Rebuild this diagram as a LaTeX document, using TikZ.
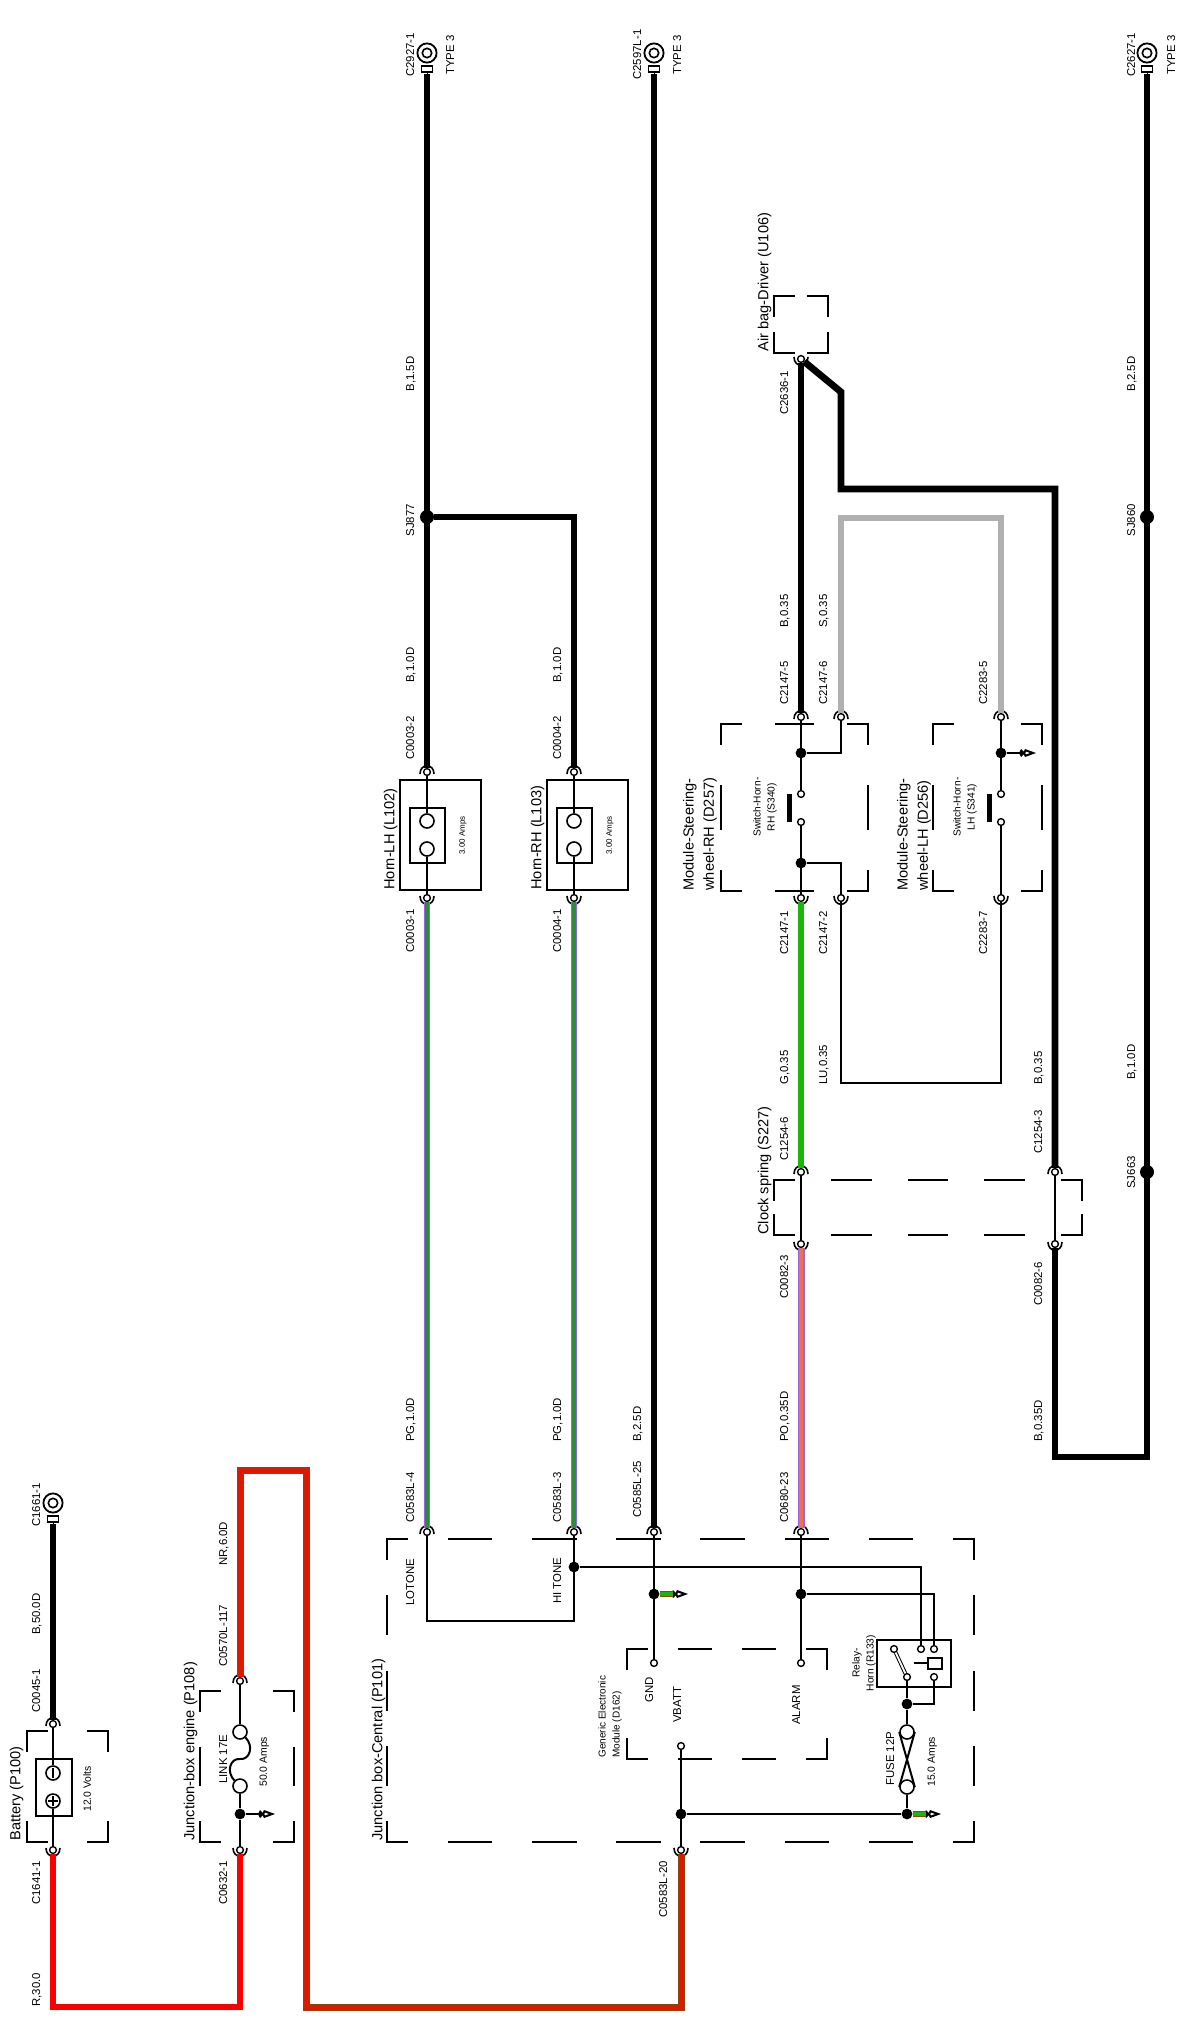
\documentclass[tikz,border=0pt]{standalone}
\usepackage{fontspec}
\setmainfont{Liberation Sans}
\usetikzlibrary{arrows.meta}
\definecolor{wgreen}{HTML}{1EB40E}
\definecolor{wgrey}{HTML}{B0B0B0}
\definecolor{wred}{HTML}{FA0000}
\definecolor{wbrown}{HTML}{8A4510}
\definecolor{wnr}{HTML}{DC1A00}
\definecolor{wpurple}{HTML}{9966DD}
\definecolor{wpg}{HTML}{2E8B3E}
\definecolor{wpo}{HTML}{F07050}
\newcommand{\cornerbox}[6]{%
\pgfmathsetmacro\dw{(#3-#1-40)/(2*#5+1)/2}\pgfmathsetmacro\dh{(#4-#2-40)/(2*#6+1)/2}%
\ifnum#5=0 \tikzset{wside/.style={dash pattern=on 10pt off \dw pt}}\else\tikzset{wside/.style={dash pattern=on \dw pt off \dw pt,dash phase=\dw pt-10pt}}\fi
\ifnum#6=0 \tikzset{hside/.style={dash pattern=on 10pt off \dh pt}}\else\tikzset{hside/.style={dash pattern=on \dh pt off \dh pt,dash phase=\dh pt-10pt}}\fi
\draw[boxdash,wside] (#1,#2)--(#3,#2) (#1,#4)--(#3,#4);
\draw[boxdash,hside] (#1,#2)--(#1,#4) (#3,#2)--(#3,#4);}
\begin{document}
\begin{tikzpicture}[x=.5pt,y=-.5pt,
conn/.style={circle,draw,fill=white,inner sep=0,minimum size=3.4pt,line width=.7pt},
pinc/.style={circle,draw,fill=white,inner sep=0,minimum size=3.4pt,line width=.7pt},
coilc/.style={circle,draw,fill=white,inner sep=0,minimum size=7pt,line width=.8pt},
splice/.style={circle,fill=black,inner sep=0,minimum size=5.4pt},
bigsplice/.style={circle,fill=black,inner sep=0,minimum size=7pt},
ring/.style={circle,draw,fill=white,inner sep=0,minimum size=9.6pt,line width=.9pt},
lug/.style={rectangle,draw,fill=white,inner sep=0,minimum width=5.4pt,minimum height=3pt,outer sep=1.2pt,line width=.7pt},
thinw/.style={line width=1pt},
boxdash/.style={line width=1.2pt,line cap=rect},
boxl/.style={line width=1.1pt},
wblack/.style={line width=3.4pt,black},
wR/.style={line width=3.4pt,wred},
wNR/.style={draw=wbrown,double=wnr,line width=.5pt,double distance=2.5pt},
wPG/.style={draw=wpurple,double=wpg,line width=.9pt,double distance=1.6pt},
wPO/.style={draw=wpurple,double=wpo,line width=.6pt,double distance=2.3pt},
wG/.style={line width=3.4pt,wgreen},
wS/.style={line width=3.4pt,wgrey},
stub/.style={draw=wbrown,double=wgreen,line width=.5pt,double distance=2.4pt},
tipw/.style={line width=1pt,-{Kite[length=3pt,width=4pt,inset=1pt,sep=-1pt]Kite[open,fill=white,length=6.5pt,width=4pt,inset=1pt]}},
rotlab/.style={rotate=90,anchor=west,inner sep=0},
lab/.style={rotlab,font=\fontsize{5.7}{7}\selectfont,text height=4.1pt,text depth=0pt},
midlab/.style={rotlab,font=\fontsize{5.2}{7}\selectfont,text height=3.8pt,text depth=0pt},
tinylab/.style={rotlab,font=\fontsize{4}{5}\selectfont,text height=2.9pt,text depth=0pt},
ttl/.style={rotlab,font=\fontsize{7.3}{10}\selectfont,text height=5.3pt,text depth=0pt},
twoline/.style={rotlab,align=left,font=\fontsize{7.3}{10.2}\selectfont},
smalltwo/.style={rotlab,anchor=center,align=center,font=\fontsize{5.1}{7}\selectfont},
capup/.pic={\draw[line width=.8pt] (-7,2) .. controls (-7,-9) and (7,-9) .. (7,2);},
capdn/.pic={\draw[line width=.8pt] (-7,-2) .. controls (-7,9) and (7,9) .. (7,-2);},
eyelet/.pic={\draw[line width=.8pt] (0,0) circle[radius=4.7]; \draw[line width=.5pt] (0,19)--(0,24);}]
\useasboundingbox (0,0) rectangle (1185,2028);
% connectors and terminals
\foreach \n/\x/\y in {c0045-1/53/1724,c0570l-117/240/1681,c0003-2/427/772,c0004-2/574/772,c0583l-4/427/1532,c0583l-3/574/1532,c0585l-25/654/1532,c0680-23/801/1532,c2147-5/801/717,c2147-6/841/717,c2283-5/1001/717,c1254-6/801/1172,c1254-3/1055/1172}
\path (\x,\y) node[conn] (\n) {} pic{capup};
\foreach \n/\x/\y in {c1641-1/53/1850,c0632-1/240/1850,c0583l-20/681/1850,c0003-1/427/898,c0004-1/574/898,c2147-1/801/898,c2147-2/841/898,c2283-7/1001/898,c0082-3/801/1244,c0082-6/1055/1244,c2636-1/801/359}
\path (\x,\y) node[conn] (\n) {} pic{capdn};
\foreach \n/\x/\y in {c2927-1/427/53,c2597l-1/654/53,c2627-1/1147/53,c1661-1/53/1503}{
\node[lug] (\n) at (\x,\y+16) {};
\node[ring] (r\n) at (\x,\y) {};
\path (\x,\y) pic{eyelet};
}
% splices
\foreach \n/\x/\y in {jengine/240/1814,jhi/574/1567,jgnd/654/1594,jalarm/801/1594,jvbatt/681/1814,jfuse/907/1814,jrelay/907/1704,jsw1/801/753,jsw2/801/863,jsw3/1001/753}
\node[splice] (\n) at (\x,\y) {};
\foreach \n/\x/\y in {sj877/427/517,sj860/1147/517,sj663/1147/1172}
\node[bigsplice] (\n) at (\x,\y) {};
% pins
\foreach \n/\x/\y in {pgnd/654/1663,palarm/801/1663,pvbatt/681/1746,ra/894/1649,rb/907/1677,rc/921/1649,rd/934/1649,re/934/1677,s1a/801/794,s1b/801/822,s2a/1001/794,s2b/1001/822}
\node[pinc] (\n) at (\x,\y) {};
\foreach \n/\x/\y in {bneg/53/1773,bpos/53/1801,link1/240/1786,link2/240/1732,h1a/427/821,h1b/427/849,h2a/574/821,h2b/574/849,f1/907/1732,f2/907/1787}
\node[coilc] (\n) at (\x,\y) {};
\foreach \n/\x/\y in {tipa/275/1814,tipb/688/1594,tipc/941/1814,tipd/1036/753}
\coordinate (\n) at (\x,\y);
% boxes
\cornerbox{27}{1731}{108}{1842}{0}{0}
\cornerbox{200}{1691}{294}{1842}{0}{1}
\cornerbox{387}{1539}{974}{1842}{6}{3}
\cornerbox{627}{1649}{827}{1759}{2}{0}
\cornerbox{721}{724}{868}{891}{1}{1}
\cornerbox{933}{724}{1042}{891}{0}{1}
\cornerbox{774}{1180}{1082}{1235}{3}{0}
\cornerbox{774}{296}{828}{353}{0}{0}
\draw[boxl] (36,1759) rectangle (72,1816) (400,780) rectangle (481,890) (547,780) rectangle (628,890);
\draw[line width=.9pt] (410,808) rectangle (445,863) (557,808) rectangle (592,863) (877,1640) rectangle (951,1687);
\draw[line width=.9pt,fill=white] (928,1658) rectangle (942,1669);
% power feed
\draw[wblack] (c1661-1)--(c0045-1);
\draw[wR] (c1641-1)--(53,2007)-|(c0632-1);
\draw[wNR] (c0570l-117)--(240,1470)-|(306,2007)-|(c0583l-20);
\draw[thinw] (c0045-1)--(bneg) (bpos)--(c1641-1) (c0570l-117)--(link2) (link1)--(jengine)--(c0632-1);
\draw[thinw] (link1) .. controls (226,1772) and (230,1758) .. (240,1759) .. controls (250,1760) and (254,1746) .. (link2);
\draw[line width=1.1pt] (53,1768)--(53,1778) (53,1796)--(53,1806) (48,1801)--(58,1801);
% horns
\draw[wblack] (c2927-1)--(c0003-2);
\draw[wblack] (sj877)-|(c0004-2);
\draw[wblack] (c2597l-1)--(c0585l-25);
\draw[wblack] (c2627-1)--(1147,1457)-|(c0082-6);
\draw[wPG] (c0003-1)--(c0583l-4);
\draw[wPG] (c0004-1)--(c0583l-3);
\draw[thinw] (c0003-2)--(h1a) (h1b)--(c0003-1) (c0004-2)--(h2a) (h2b)--(c0004-1);
% steering wheel
\draw[wblack] (c2636-1)--(c2147-5);
\draw[wblack] (c2636-1)--(841,392)--(841,489)-|(c1254-3);
\draw[wS] (c2147-6)--(841,518)-|(c2283-5);
\draw[wG] (c2147-1)--(c1254-6);
\draw[wPO] (c0082-3)--(c0680-23);
\draw[thinw] (c2147-5)--(s1a) (s1b)--(c2147-1) (jsw1)-|(c2147-6) (jsw2)-|(c2147-2);
\draw[thinw] (c2283-5)--(s2a) (s2b)--(c2283-7);
\draw[thinw] (c2147-2)--(841,1083)-|(c2283-7);
\draw[thinw] (c1254-6)--(c0082-3) (c1254-3)--(c0082-6);
\draw[line width=2.5pt] (789,794)--(789,822) (989,794)--(989,822);
% central box
\draw[thinw] (c0583l-4)--(427,1621)-|(c0583l-3);
\draw[thinw] (jhi)-|(rc);
\draw[thinw] (jalarm)-|(rd);
\draw[thinw] (c0585l-25)--(pgnd) (c0680-23)--(palarm) (c0583l-20)--(pvbatt);
\draw[thinw] (jvbatt)--(jfuse);
\draw[thinw] (rb)--(jrelay) (jrelay)-|(re) (jrelay)--(f1) (f2)--(jfuse);
\draw[thinw] (f1.west)--(f2.east) (f1.east)--(f2.west);
\draw[line width=.5pt,double,double distance=.9pt] (ra)--(rb);
\draw[thinw] (914,1663)--(928,1663);
\draw[tipw] (jengine)--(tipa);
\draw[tipw] (jgnd)--(tipb);
\draw[tipw] (jfuse)--(tipc);
\draw[tipw] (jsw3)--(tipd);
\draw[stub] (660,1594)--(673,1594);
\draw[stub] (913,1814)--(926,1814);
% labels
\foreach \t/\x/\y [count=\i] in {C1661-1/36/1527,{B,50.0D}/36/1635,C0045-1/36/1713,C1641-1/36/1905,{R,30.0}/36/2007,{NR,6.0D}/223/1566,C0570L-117/223/1667,C0632-1/223/1905,LINK 17E/223/1784,C2927-1/410/77,TYPE 3/450/75,{B,1.5D}/410/392,SJ877/410/537,{B,1.0D}/410/683,C0003-2/410/760,C0003-1/410/953,{PG,1.0D}/410/1442,C0583L-4/410/1523,LOTONE/410/1606,C2597L-1/637/80,TYPE 3/677/75,C2627-1/1131/77,TYPE 3/1171/75,{B,2.5D}/1131/392,SJ860/1131/537,{B,1.0D}/1131/1080,SJ663/1131/1189,{B,1.0D}/557/683,C0004-2/557/760,C0004-1/557/953,{PG,1.0D}/557/1442,C0583L-3/557/1523,HI TONE/557/1604,{B,2.5D}/637/1442,C0585L-25/637/1518,C2636-1/784/415,{B,0.35}/784/628,C2147-5/784/705,C2147-1/784/955,{G,0.35}/784/1085,C1254-6/784/1161,C0082-3/784/1299,{PO,0.35D}/784/1442,C0680-23/784/1523,{S,0.35}/823/628,C2147-6/823/705,C2147-2/823/955,{LU,0.35}/823/1085,C2283-5/983/705,C2283-7/983/955,{B,0.35}/1038/1085,C1254-3/1038/1154,C0082-6/1038/1306,{B,0.35D}/1038/1442,C0583L-20/663/1918,GND/649/1703,VBATT/677/1723,ALARM/796/1725,FUSE 12P/890/1786}
\node[lab] (wl\i) at (\x,\y) {\t};
\foreach \t/\x/\y [count=\i] in {12.0 Volts/87/1812,50.0 Amps/263/1787,15.0 Amps/931/1787}
\node[midlab] (ml\i) at (\x,\y) {\t};
\foreach \x [count=\i] in {462,609}
\node[tinylab] (al\i) at (\x,855) {3.00 Amps};
\foreach \t/\x/\y [count=\i] in {Battery (P100)/15/1841,Junction-box engine (P108)/189/1841,Junction box-Central (P101)/377/1841,Horn-LH (L102)/389/890,Horn-RH (L103)/536/890,Clock spring (S227)/763/1235,Air bag-Driver (U106)/763/352}
\node[ttl] (tl\i) at (\x,\y) {\t};
\node[twoline] (modrh) at (700,891) {Module-Steering-\\wheel-RH (D257)};
\node[twoline] (modlh) at (914,891) {Module-Steering-\\wheel-LH (D256)};
\node[rotlab,align=left,font=\fontsize{5}{7}\selectfont] (modgen) at (610,1758) {Generic Electronic\\Module (D162)};
\node[smalltwo] (relay) at (864,1663) {Relay-\\Horn (R133)};
\node[smalltwo] (swrh) at (765,807) {Switch-Horn-\\RH (S340)};
\node[smalltwo] (swlh) at (965,807) {Switch-Horn-\\LH (S341)};
\end{tikzpicture}
\end{document}
